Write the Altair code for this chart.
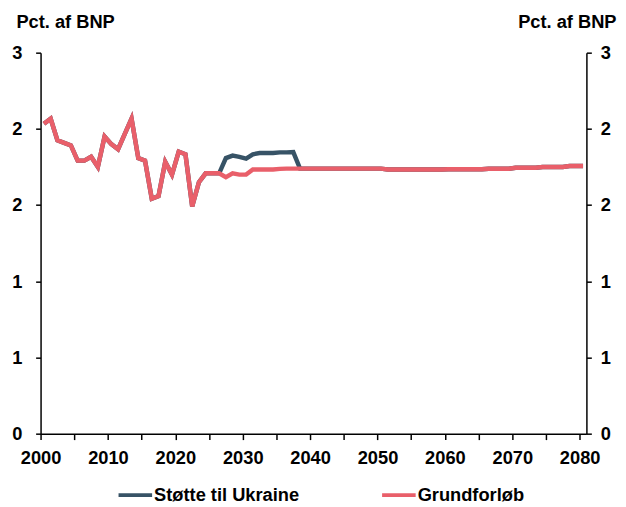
import altair as alt
import pandas as pd

years = list(range(2000, 2081))

grund = [
    2.44, 2.48, 2.31, 2.29, 2.27, 2.15, 2.15, 2.18, 2.10, 2.34,
    2.28, 2.24, 2.36, 2.48, 2.17, 2.15, 1.85, 1.87, 2.14, 2.04,
    2.22, 2.20, 1.79, 1.98, 2.05, 2.05, 2.05, 2.02, 2.05, 2.04,
    2.04, 2.08, 2.08, 2.08, 2.08, 2.085, 2.087, 2.087, 2.087, 2.087,
    2.087, 2.087, 2.087, 2.087, 2.087, 2.087, 2.087, 2.087, 2.087, 2.087,
    2.087, 2.08, 2.08, 2.08, 2.08, 2.08, 2.08, 2.08, 2.08, 2.08,
    2.082, 2.082, 2.082, 2.082, 2.082, 2.082, 2.086, 2.086, 2.086, 2.086,
    2.094, 2.094, 2.094, 2.094, 2.10, 2.10, 2.10, 2.10, 2.107, 2.107,
    2.107,
]

ukraine_extra = {
    2027: 2.17, 2028: 2.19, 2029: 2.18, 2030: 2.166, 2031: 2.20,
    2032: 2.21, 2033: 2.21, 2034: 2.21, 2035: 2.215, 2036: 2.215,
    2037: 2.217,
}
ukraine = [ukraine_extra.get(y, g) for y, g in zip(years, grund)]

series_names = ["Støtte til Ukraine", "Grundforløb"]
series_colors = ["#375366", "#e95f6a"]

df = pd.concat([
    pd.DataFrame({"year": years, "value": ukraine, "serie": series_names[0]}),
    pd.DataFrame({"year": years, "value": grund, "serie": series_names[1]}),
])
df["x"] = df["year"] + 0.5

FONT = "Liberation Sans"
FS = 18.5

color = alt.Color(
    "serie:N",
    scale=alt.Scale(domain=series_names, range=series_colors),
    sort=series_names,
    legend=alt.Legend(
        title=None,
        orient="none",
        direction="horizontal",
        legendX=77,
        legendY=429,
        symbolType="stroke",
        symbolSize=1156,
        symbolStrokeWidth=4,
        labelOffset=0,
        columnPadding=76,
        labelFont=FONT,
        labelFontSize=FS,
        labelFontWeight="bold",
        labelColor="black",
        padding=0,
    ),
)

xenc = alt.X(
    "x:Q",
    scale=alt.Scale(domain=[2000, 2081], nice=False, zero=False),
    axis=alt.Axis(
        values=list(range(2000, 2081, 5)),
        labelExpr="datum.value % 10 == 0 ? datum.value : ''",
        title=None,
        grid=False,
        tickSize=6,
        labelPadding=9,
        labelFlush=False,
        labelOverlap=False,
    ),
)

def yaxis(orient, title_x, align, pad):
    return alt.Axis(
        orient=orient,
        values=[0, 0.6, 1.2, 1.8, 2.4, 3.0],
        format=".0f",
        grid=False,
        tickSize=5,
        labelPadding=pad,
        title="Pct. af BNP",
        titleAngle=0,
        titleX=title_x,
        titleY=-25,
        titleAlign=align,
        titleBaseline="alphabetic",
        titleFont=FONT,
        titleFontSize=FS,
        titleFontWeight="bold",
        labelFlush=False,
    )

yscale = alt.Scale(domain=[0, 3], nice=False)

base = alt.Chart(df)

dark = base.transform_filter(alt.datum.serie == series_names[0]).mark_line(
    strokeWidth=4.5
).encode(
    x=xenc,
    y=alt.Y("value:Q", scale=yscale, axis=yaxis("left", -25, "left", 14)),
    color=color,
)

red = base.transform_filter(alt.datum.serie == series_names[1]).mark_line(
    strokeWidth=4.5
).encode(
    x=xenc,
    y=alt.Y("value:Q", scale=yscale, axis=yaxis("right", 30, "right", 9)),
    color=color,
)

chart = alt.layer(dark, red).resolve_scale(y="independent").properties(
    width=553,
    height=386,
    autosize=alt.AutoSizeParams(type="none"),
    padding={"left": 33, "top": 42, "right": 32, "bottom": 70},
).configure_view(stroke=None).configure_axis(
    domainColor="black",
    domainWidth=1.5,
    tickColor="black",
    tickWidth=1.5,
    labelFont=FONT,
    labelFontSize=FS,
    labelFontWeight="bold",
    labelColor="black",
    titleColor="black",
)

chart.save("out.html", embed_options={"renderer": "svg", "actions": False})
